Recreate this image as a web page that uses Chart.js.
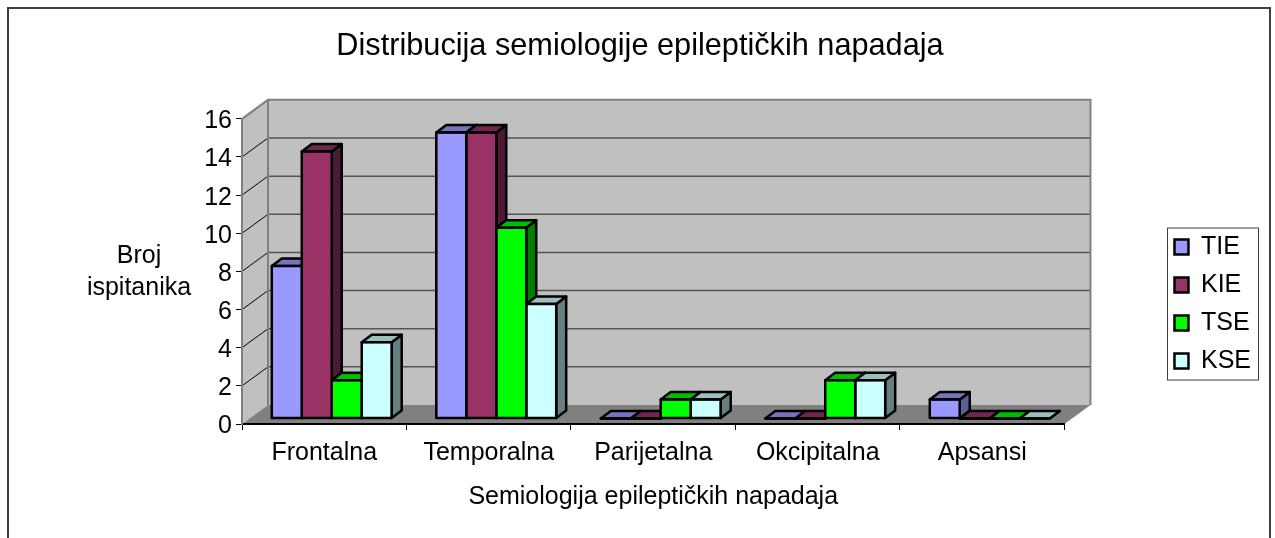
<!DOCTYPE html>
<html>
<head>
<meta charset="utf-8">
<title>Distribucija semiologije epileptičkih napadaja</title>
<script src="https://cdn.jsdelivr.net/npm/chart.js@4"></script>
<style>
  html, body { margin: 0; padding: 0; background: #fff; }
  canvas { display: block; }
</style>
</head>
<body>
<canvas id="chart" width="1275" height="538"></canvas>
<script>
const categories = ['Frontalna', 'Temporalna', 'Parijetalna', 'Okcipitalna', 'Apsansi'];
const seriesNames = ['TIE', 'KIE', 'TSE', 'KSE'];
const tie = [8, 15, 0, 0, 1];
const kie = [14, 15, 0, 0, 0];
const tse = [2, 10, 1, 2, 0];
const kse = [4, 6, 1, 2, 0];
const seriesValues = [tie, kie, tse, kse];

const frontColors = ['#9999FF', '#993366', '#00FF00', '#CCFFFF'];
const topColors = ['#7373BF', '#73264D', '#00BF00', '#99BFBF'];
const sideColors = ['#5C5C99', '#4D1A33', '#008000', '#668080'];

const chartTitle = 'Distribucija semiologije epileptičkih napadaja';
const xTitle = 'Semiologija epileptičkih napadaja';
const yTitleLines = ['Broj', 'ispitanika'];

const fontFamily = '"Liberation Sans", Arial, sans-serif';

// depth of the walls, of the bar box, and where the bars sit on the floor
const wallDx = 26, wallDy = 19;
const barDx = 10, barDy = 7.5;
const floorDx = 7.5, floorDy = 5.5;
const barLine = 2.5;

const fakeDepth = {
    id: 'fakeDepth',

    // frame, walls, floor, gridlines: all behind the axes
    beforeDraw(chart) {
        const { ctx, scales: { x, y } } = chart;
        const left = x.left, right = x.right, top = y.top, bottom = y.bottom;
        ctx.save();

        ctx.strokeStyle = '#404040';
        ctx.lineWidth = 2;
        ctx.beginPath();
        ctx.moveTo(8, 538);
        ctx.lineTo(8, 8);
        ctx.lineTo(1270, 8);
        ctx.lineTo(1270, 538);
        ctx.stroke();

        ctx.fillStyle = '#C0C0C0';
        ctx.fillRect(left + wallDx, top - wallDy, right - left, bottom - top);

        ctx.beginPath();
        ctx.moveTo(left, top);
        ctx.lineTo(left + wallDx, top - wallDy);
        ctx.lineTo(left + wallDx, bottom - wallDy);
        ctx.lineTo(left, bottom);
        ctx.closePath();
        ctx.fill();

        ctx.fillStyle = '#808080';
        ctx.beginPath();
        ctx.moveTo(left, bottom);
        ctx.lineTo(left + wallDx, bottom - wallDy);
        ctx.lineTo(right + wallDx, bottom - wallDy);
        ctx.lineTo(right, bottom);
        ctx.closePath();
        ctx.fill();

        // gridlines on the back wall and their diagonals on the side wall
        y.ticks.forEach(tick => {
            if (tick.value === 0 || tick.value === 16) {
                return;
            }
            const py = y.getPixelForValue(tick.value);
            ctx.strokeStyle = '#555';
            ctx.lineWidth = 1.5;
            ctx.beginPath();
            ctx.moveTo(left + wallDx, py - wallDy);
            ctx.lineTo(right + wallDx, py - wallDy);
            ctx.stroke();

            ctx.strokeStyle = '#000';
            ctx.lineWidth = 1;
            ctx.beginPath();
            ctx.moveTo(left, py);
            ctx.lineTo(left + wallDx, py - wallDy);
            ctx.stroke();
        });

        ctx.strokeStyle = '#808080';
        ctx.lineWidth = 2;
        ctx.beginPath();
        ctx.moveTo(left, top);
        ctx.lineTo(left + wallDx, top - wallDy);
        ctx.lineTo(right + wallDx, top - wallDy);
        ctx.lineTo(right + wallDx, bottom - wallDy);
        ctx.moveTo(left + wallDx, top - wallDy);
        ctx.lineTo(left + wallDx, bottom - wallDy);
        ctx.stroke();
        ctx.restore();
    },

    // tops and sides go first, left to right, the fronts are painted over them
    beforeDatasetsDraw(chart) {
        const ctx = chart.ctx;
        ctx.save();
        ctx.translate(floorDx, -floorDy);
        ctx.strokeStyle = '#000';
        ctx.lineWidth = barLine;
        ctx.lineJoin = 'round';
        seriesNames.forEach((name, s) => {
            chart.getDatasetMeta(s).data.forEach(bar => {
                const l = bar.x - bar.width / 2;
                const r = bar.x + bar.width / 2;

                ctx.fillStyle = sideColors[s];
                ctx.beginPath();
                ctx.moveTo(r, bar.y);
                ctx.lineTo(r + barDx, bar.y - barDy);
                ctx.lineTo(r + barDx, bar.base - barDy);
                ctx.lineTo(r, bar.base);
                ctx.closePath();
                ctx.fill();
                ctx.stroke();

                ctx.fillStyle = topColors[s];
                ctx.beginPath();
                ctx.moveTo(l, bar.y);
                ctx.lineTo(l + barDx, bar.y - barDy);
                ctx.lineTo(r + barDx, bar.y - barDy);
                ctx.lineTo(r, bar.y);
                ctx.closePath();
                ctx.fill();
                ctx.stroke();
            });
        });
        ctx.restore();
    },

    // the library's bars are shifted onto the floor, away from the axis
    beforeDatasetDraw(chart) {
        chart.ctx.save();
        chart.ctx.translate(floorDx, -floorDy);
    },

    afterDatasetDraw(chart, args) {
        const ctx = chart.ctx;
        ctx.strokeStyle = '#000';
        ctx.lineWidth = barLine;
        ctx.lineJoin = 'round';
        args.meta.data.forEach(bar => {
            ctx.strokeRect(bar.x - bar.width / 2, bar.y, bar.width, bar.base - bar.y);
        });
        ctx.restore();
    },

    afterDraw(chart) {
        const ctx = chart.ctx;
        ctx.save();

        // the value axis title stays horizontal in the reference
        ctx.fillStyle = '#000';
        ctx.font = '25px ' + fontFamily;
        ctx.textAlign = 'center';
        ctx.textBaseline = 'middle';
        yTitleLines.forEach((line, i) => ctx.fillText(line, 139, 256 + i * 32.5));

        // box around the legend
        const hits = chart.legend.legendHitBoxes;
        const first = hits[0], last = hits[hits.length - 1];
        const boxTop = first.top + first.height / 2 - 19;
        const boxBottom = last.top + last.height / 2 + 19;
        ctx.strokeStyle = '#404040';
        ctx.lineWidth = 1;
        ctx.strokeRect(1167.5, boxTop, 91, boxBottom - boxTop);
        ctx.restore();
    }
};

const chart = new Chart(document.getElementById('chart'), {
    type: 'bar',
    data: {
        labels: categories,
        datasets: seriesNames.map((name, i) => ({
            label: name,
            data: seriesValues[i],
            backgroundColor: frontColors[i],
            borderColor: '#000',
            borderWidth: 1,
            borderSkipped: false,
            clip: false,
            categoryPercentage: 0.729,
            barPercentage: 1
        }))
    },
    plugins: [fakeDepth],
    options: {
        responsive: false,
        animation: false,
        layout: { padding: { left: 19, right: 14, top: 0, bottom: 0 } },
        font: { family: fontFamily },
        plugins: {
            title: {
                display: true,
                text: chartTitle,
                color: '#000',
                font: { family: fontFamily, size: 30.7, weight: 'normal' },
                padding: { top: 28, bottom: 54 }
            },
            legend: {
                position: 'right',
                fullSize: false,
                title: { display: true, text: '', padding: { top: 64, bottom: 0 }, font: { size: 1 } },
                labels: {
                    color: '#000',
                    font: { family: fontFamily, size: 25 },
                    boxWidth: 14,
                    boxHeight: 15,
                    padding: 13,
                    generateLabels: c => Chart.defaults.plugins.legend.labels.generateLabels(c)
                        .map(item => ({ ...item, lineWidth: 2.5 }))
                }
            },
            tooltip: { enabled: false }
        },
        scales: {
            x: {
                afterFit: s => { s.height = 114; },
                grid: { drawOnChartArea: false, color: '#000', tickLength: 6, lineWidth: 1 },
                border: { color: '#000', width: 2 },
                ticks: { color: '#000', font: { family: fontFamily, size: 25 }, padding: 8, maxRotation: 0 },
                title: {
                    display: true,
                    text: xTitle,
                    color: '#000',
                    font: { family: fontFamily, size: 25 },
                    padding: { top: 0, bottom: 26 }
                }
            },
            y: {
                min: 0,
                max: 16,
                afterFit: s => { s.width = 223; },
                grid: { drawOnChartArea: false, color: '#000', tickLength: 6, lineWidth: 1 },
                border: { color: '#808080', width: 2 },
                ticks: {
                    stepSize: 2,
                    color: '#000',
                    // empty first line nudges the number down onto its tick
                    callback: v => ['', String(v)],
                    font: { family: fontFamily, size: 25, lineHeight: '5px' },
                    padding: 4
                }
            },
            // empty axis that only holds the gap between the plot and the legend
            gap: {
                position: 'right',
                afterFit: s => { s.width = 97; },
                grid: { display: false },
                border: { display: false },
                ticks: { display: false }
            }
        }
    }
});
</script>
</body>
</html>
